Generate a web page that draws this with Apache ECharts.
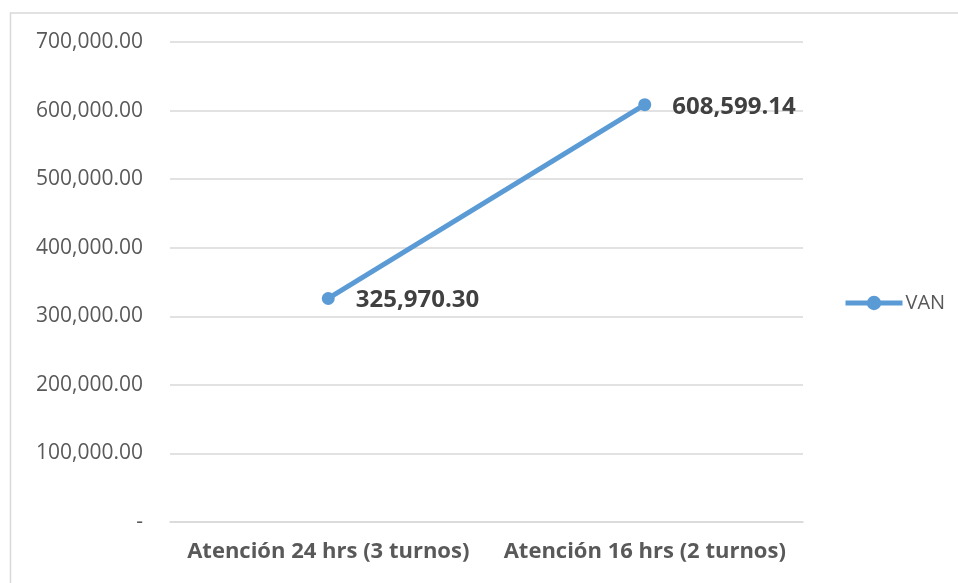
<!DOCTYPE html>
<html>
<head>
<meta charset="utf-8">
<style>
  html, body { margin: 0; padding: 0; background: #fff; }
  #chart { width: 958px; height: 583px; }
</style>
<script src="https://cdn.jsdelivr.net/npm/echarts@6/dist/echarts.min.js"></script>
</head>
<body>
<div id="chart"></div>
<script>
// Scenarios compared and their net present value (VAN)
const categories = ['Atención 24 hrs (3 turnos)', 'Atención 16 hrs (2 turnos)'];
const vanValues = [325970.30, 608599.14];
const seriesName = 'VAN';

const chart = echarts.init(document.getElementById('chart'));

function fmtAccounting(v) {
  if (v === 0) return '-';
  return v.toLocaleString('en-US', { minimumFractionDigits: 2, maximumFractionDigits: 2 });
}

const font = '"Open Sans", "Liberation Sans", sans-serif';
const blue = '#5b9bd5';

chart.setOption({
  animation: false,
  backgroundColor: '#ffffff',
  graphic: [{
    type: 'rect',
    shape: { x: 10.5, y: 13, width: 1000, height: 700 },
    style: { fill: 'none', stroke: '#d9d9d9', lineWidth: 1.5 },
    silent: true,
    z: -1
  }],
  legend: {
    data: [{ name: seriesName, lineStyle: { width: 5, color: blue }, itemStyle: { color: blue } }],
    orient: 'vertical',
    left: 838,
    top: 288,
    itemWidth: 57,
    itemHeight: 18,
    itemGap: 4,
    textStyle: { color: '#595959', fontSize: 20, fontFamily: font, padding: [0, 0, 0, -2] }
  },
  grid: { left: 170, right: 155, top: 42, bottom: 61 },
  xAxis: {
    type: 'category',
    data: categories,
    boundaryGap: true,
    axisLine: { show: true, lineStyle: { color: '#d9d9d9', width: 1.5 } },
    axisTick: { show: false },
    axisLabel: { interval: 0, color: '#595959', fontSize: 22, fontWeight: 'bold', fontFamily: font, margin: 19 }
  },
  yAxis: {
    type: 'value',
    min: 0,
    max: 700000,
    interval: 100000,
    axisLine: { show: false },
    axisTick: { show: false },
    splitLine: { lineStyle: { color: '#d9d9d9', width: 1.5 } },
    axisLabel: {
      color: '#595959', fontSize: 21, fontFamily: font, margin: 27,
      formatter: fmtAccounting
    }
  },
  series: [{
    name: seriesName,
    type: 'line',
    data: vanValues,
    symbol: 'circle',
    symbolSize: 13,
    lineStyle: { color: blue, width: 5 },
    itemStyle: { color: blue },
    label: {
      show: true,
      position: 'right',
      distance: 21,
      offset: [0, 2],
      color: '#404040',
      fontSize: 24,
      fontWeight: 'bold',
      fontFamily: font,
      formatter: p => fmtAccounting(p.value)
    }
  }]
});
</script>
</body>
</html>
